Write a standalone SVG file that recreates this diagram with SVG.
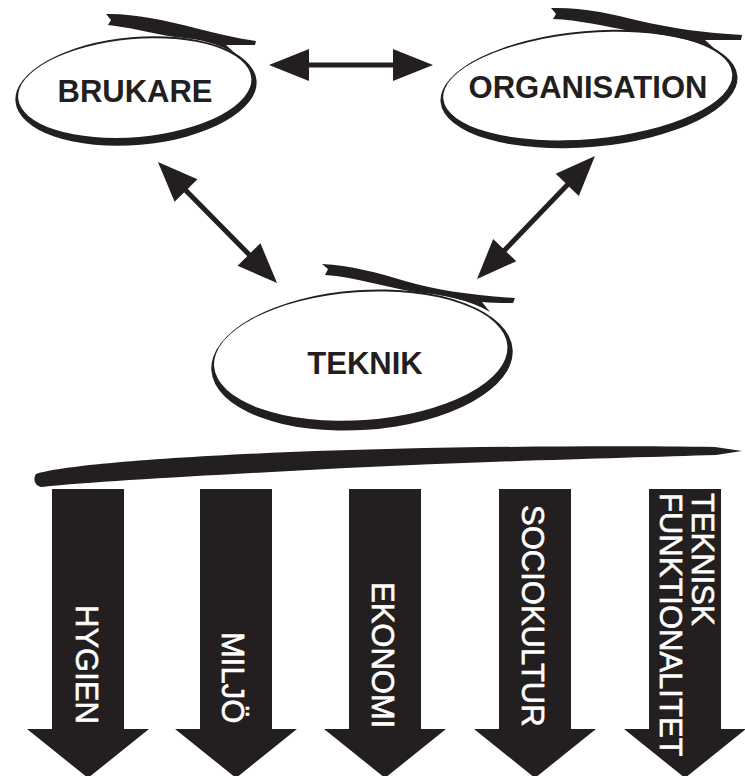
<svg xmlns="http://www.w3.org/2000/svg" width="745" height="776" viewBox="0 0 745 776">
<style>
.ink{fill:#231f20}
.ring{fill:#231f20;fill-rule:evenodd}
.lbl{font-family:"Liberation Sans",Arial,Helvetica,sans-serif;font-weight:bold;font-size:31px;fill:#231f20;text-anchor:middle}
.alb{font-family:"Liberation Sans",Arial,Helvetica,sans-serif;font-size:31px;fill:#ffffff;stroke:#ffffff;stroke-width:0.6}
.con{stroke:#231f20;stroke-width:5;fill:none;marker-start:url(#head);marker-end:url(#head)}
</style>
<defs>
<marker id="head" markerUnits="userSpaceOnUse" viewBox="-12 -18 44 36" markerWidth="44" markerHeight="36" refX="0" refY="0" orient="auto-start-reverse">
<path d="M30,0 L-10,-16 L-10,16 Z" fill="#231f20"/>
</marker>
<path id="down" d="M-36,489 H36 V729 H61 L0,778 L-61,729 H-36 Z"/>
</defs>
<rect width="745" height="776" fill="#ffffff"/>

<g id="node-brukare">
<path class="ring" transform="rotate(-5 136 91)" d="M15,91 a121,54 0 1,0 242,0 a121,54 0 1,0 -242,0 Z M18,88 a117,49 0 1,0 234,0 a117,49 0 1,0 -234,0 Z"/>
<path class="ink" d="M106,14 C130,13 165,20 195,28 C215,33 235,38 256,41 L255,45 C242,45 232,45 226,45 L236,54 C220,44 200,39 175,37 C150,33 128,27 108,25 L111,20 Z"/>
<text class="lbl" x="135" y="102">BRUKARE</text>
</g>

<g id="node-organisation">
<path class="ring" transform="rotate(-5 589 89)" d="M440,89 a149,58 0 1,0 298,0 a149,58 0 1,0 -298,0 Z M443,86 a145,53 0 1,0 290,0 a145,53 0 1,0 -290,0 Z"/>
<path class="ink" d="M551,8 C580,7 610,13 640,21 C670,28 705,33 742,35 L741,40 C725,40 712,40 705,40 L716,50 C690,38 660,33 630,31 C605,26 578,20 553,19 L556,14 Z"/>
<text class="lbl" x="588" y="98">ORGANISATION</text>
</g>

<g id="node-teknik">
<path class="ring" transform="rotate(-4 362 360)" d="M211,360 a151,70 0 1,0 302,0 a151,70 0 1,0 -302,0 Z M214,356 a147,64 0 1,0 294,0 a147,64 0 1,0 -294,0 Z"/>
<path class="ink" d="M322,264 C350,265 378,273 405,281 C435,290 470,295 515,298 L513,303 C500,303 490,303 482,302 L490,312 C470,300 445,295 415,292 C385,287 355,277 325,275 L328,269 Z"/>
<text class="lbl" x="365" y="374">TEKNIK</text>
</g>

<g id="connectors">
<path class="con" d="M299,65 L403,65"/>
<path class="con" d="M179,183.4 L256,261.6"/>
<path class="con" d="M574.2,177.7 L497.8,257.3"/>
</g>

<g id="bar">
<path class="ink" d="M36,474 C60,466 150,458 290,452 C420,447 600,445 715,447 L742,451 L716,455 C620,458 450,462 290,471 C180,477 90,482 42,487 C34,486 33,478 36,474 Z"/>
</g>

<g id="arrow-hygien">
<use href="#down" class="ink" transform="translate(88,0)"/>
<text class="alb" transform="translate(76,605) rotate(90)">HYGIEN</text>
</g>
<g id="arrow-miljo">
<use href="#down" class="ink" transform="translate(236,0)"/>
<text class="alb" transform="translate(222,632) rotate(90)">MILJÖ</text>
</g>
<g id="arrow-ekonomi">
<use href="#down" class="ink" transform="translate(385,0)"/>
<text class="alb" transform="translate(372,582) rotate(90)">EKONOMI</text>
</g>
<g id="arrow-sociokultur">
<use href="#down" class="ink" transform="translate(535,0)"/>
<text class="alb" transform="translate(522,505) rotate(90)">SOCIOKULTUR</text>
</g>
<g id="arrow-teknisk">
<use href="#down" class="ink" transform="translate(685,0)"/>
<text class="alb" transform="translate(692,493) rotate(90)">TEKNISK</text>
<text class="alb" transform="translate(660,493) rotate(90)">FUNKTIONALITET</text>
</g>
</svg>
